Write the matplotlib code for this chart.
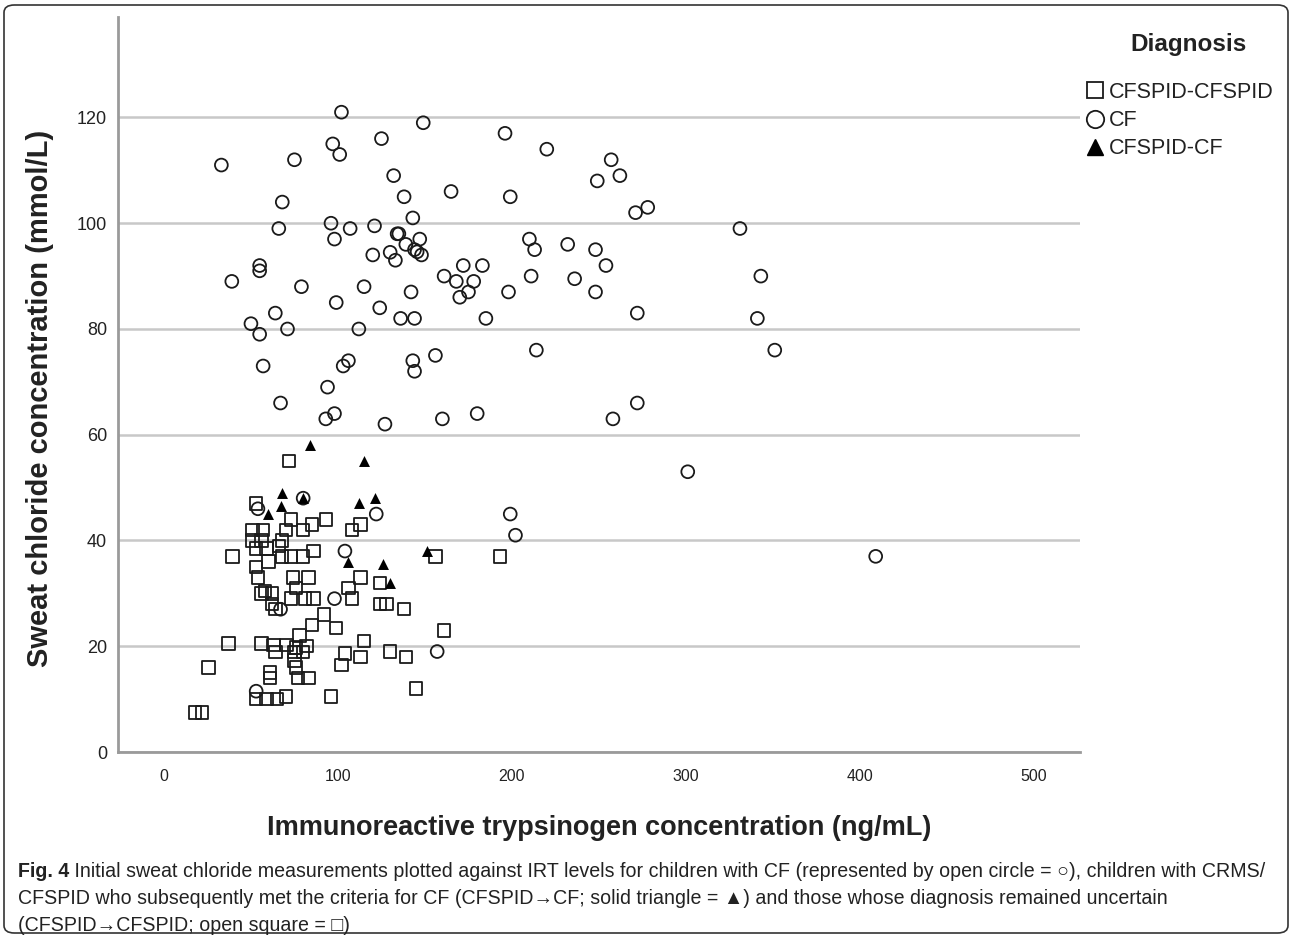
import matplotlib
matplotlib.use("Agg")
import matplotlib.pyplot as plt
from matplotlib.lines import Line2D
from matplotlib.patches import FancyBboxPatch

plt.rcParams['font.family'] = ['Liberation Sans', 'DejaVu Sans']

# CF (open circles)
cf_x = [102, 149, 97, 101, 125, 33, 75, 132, 165, 138, 68, 143, 66, 96, 107, 121, 98, 134, 135,
        147, 139, 144, 145.5, 148, 120, 130, 133, 55, 55, 161, 39, 79, 115, 142, 99, 124, 64, 136,
        144, 50, 55, 71, 112, 156, 143, 144, 106, 103, 57, 94, 67, 98, 93, 127, 160,
        196, 220, 257, 262, 249, 199, 278, 271, 331, 210, 213, 232, 248, 254, 172, 183, 168, 178,
        175, 170, 198, 211, 236, 248, 343, 341, 185, 272, 214, 351, 272, 258, 180,
        301, 409, 199, 202, 122, 104, 98, 157, 80, 54, 67, 53]
cf_y = [121, 119, 115, 113, 116, 111, 112, 109, 106, 105, 104, 101, 99, 100, 99, 99.5, 97, 98, 98,
        97, 96, 95, 94.6, 94, 94, 94.5, 93, 92, 91, 90, 89, 88, 88, 87, 85, 84, 83, 82,
        82, 81, 79, 80, 80, 75, 74, 72, 74, 73, 73, 69, 66, 64, 63, 62, 63,
        117, 114, 112, 109, 108, 105, 103, 102, 99, 97, 95, 96, 95, 92, 92, 92, 89, 89,
        87, 86, 87, 90, 89.5, 87, 90, 82, 82, 83, 76, 76, 66, 63, 64,
        53, 37, 45, 41, 45, 38, 29, 19, 48, 46, 27, 11.5]

# CFSPID -> CF (solid triangles)
tri_x = [84, 115, 68, 67, 60, 80, 112, 121, 151, 106, 126, 130]
tri_y = [58, 55, 49, 46.5, 45, 48, 47, 48, 38, 36, 35.6, 32]

# CFSPID -> CFSPID (open squares)
sq_x = [72, 53, 73, 70, 80, 85, 51, 57, 51, 56, 68, 53, 59, 66, 39.5, 60, 68, 73, 80, 86,
        53, 54, 74, 83, 56, 62, 58, 76, 73, 81, 86, 62, 64, 85, 78, 37, 25.5, 56, 63, 70.5,
        76, 82, 64, 75, 80, 75, 76, 61, 61, 77, 83, 53, 59, 65, 70, 18, 22,
        193, 156, 161, 145, 139, 130, 138, 124, 128, 124, 113, 106, 108, 113, 115, 104, 102,
        96, 108, 113, 93, 92, 99]
sq_y = [55, 47, 44, 42, 42, 43, 42, 42, 40, 40, 40, 38.5, 38.5, 39, 37, 36, 37, 37, 37, 38,
        35, 33, 33, 33, 30, 30, 30.5, 31, 29, 29, 29, 28, 27, 24, 22, 20.5, 16, 20.5, 20.2, 20.2,
        19.8, 20, 18.9, 18.9, 18.9, 17.3, 16, 15, 14, 14, 14, 10, 10, 10, 10.5, 7.5, 7.5,
        37, 37, 23, 12, 18, 19, 27, 28, 28, 32, 33, 31, 29, 18, 21, 18.6, 16.4,
        10.5, 42, 43, 44, 26, 23.5]

y_ticks = [0, 20, 40, 60, 80, 100, 120]
x_ticks = [0, 100, 200, 300, 400, 500]
groups = ['CFSPID-CFSPID', 'CF', 'CFSPID-CF']

fig = plt.figure(figsize=(12.93, 9.38), dpi=100)
ax = fig.add_axes([118 / 1293, 1 - 752 / 938, 962 / 1293, 735 / 938])

edge = '#1a1a1a'
ax.scatter(sq_x, sq_y, marker='s', s=80, facecolors='none', edgecolors=edge, linewidths=1.3, zorder=3)
ax.scatter(cf_x, cf_y, marker='o', s=85, facecolors='none', edgecolors=edge, linewidths=1.3, zorder=4)
ax.scatter(tri_x, tri_y, marker='^', s=62, color='black', linewidths=0, zorder=5)

ax.set_xlim(-26.4, 526.4)
ax.set_ylim(0, 139)
ax.set_yticks(y_ticks)
ax.set_xticks(x_ticks)
ax.yaxis.grid(True, color='#c8c8c8', linewidth=1.8)
ax.set_axisbelow(True)

for side in ['top', 'right']:
    ax.spines[side].set_visible(False)
for side in ['left', 'bottom']:
    ax.spines[side].set_color('#9a9a9a')
    ax.spines[side].set_linewidth(2)

ax.tick_params(axis='y', length=0, pad=8, labelsize=13, labelcolor='#222222')
ax.tick_params(axis='x', length=0, pad=12, labelsize=11.5, labelcolor='#222222')

# axis titles
fig.text(40 / 1293, 1 - 398 / 938, 'Sweat chloride concentration (mmol/L)', rotation=90,
         ha='center', va='center', fontsize=21, fontweight='bold', color='#222222')
fig.text(599 / 1293, 1 - 828 / 938, 'Immunoreactive trypsinogen concentration (ng/mL)',
         ha='center', va='center', fontsize=19.5, fontweight='bold', color='#222222')

# legend
fig.text(1188 / 1293, 1 - 45 / 938, 'Diagnosis', ha='center', va='center',
         fontsize=17.5, fontweight='bold', color='#222222')
handles = [
    Line2D([], [], marker='s', linestyle='none', markersize=12, markerfacecolor='none',
           markeredgecolor=edge, markeredgewidth=1.3),
    Line2D([], [], marker='o', linestyle='none', markersize=12.5, markerfacecolor='none',
           markeredgecolor=edge, markeredgewidth=1.3),
    Line2D([], [], marker='^', linestyle='none', markersize=11.5, color='black'),
]
leg = fig.legend(handles, groups, loc='upper left',
                 bbox_to_anchor=(1084 / 1293, 1 - 82 / 938),
                 frameon=False, fontsize=15.5, handletextpad=0.15, handlelength=1.0,
                 labelspacing=0.33, borderaxespad=0, borderpad=0)
for t in leg.get_texts():
    t.set_color('#222222')

# caption
cap_size = 14.1
caption_lines = [
    'Initial sweat chloride measurements plotted against IRT levels for children with CF '
    '(represented by open circle = \u25CB), children with CRMS/',
    'CFSPID who subsequently met the criteria for CF (CFSPID\u2192CF; solid triangle = \u25B2) '
    'and those whose diagnosis remained uncertain',
    '(CFSPID\u2192CFSPID; open square = \u25A1)',
]
fig_lbl = fig.text(18 / 1293, 1 - 877 / 938, 'Fig. 4', fontsize=cap_size, fontweight='bold',
                   color='#222222', va='baseline')
ax.annotate(' ' + caption_lines[0], xy=(1, 0), xycoords=fig_lbl, va='bottom', ha='left',
            fontsize=cap_size, color='#222222', annotation_clip=False)
fig.text(18 / 1293, 1 - 904 / 938, caption_lines[1], fontsize=cap_size,
         color='#222222', va='baseline')
fig.text(18 / 1293, 1 - 931 / 938, caption_lines[2], fontsize=cap_size,
         color='#222222', va='baseline')

# rounded frame around the figure panel
fig.add_artist(FancyBboxPatch((4 / 1293, 5 / 938), 1284 / 1293, 928 / 938,
                              boxstyle='round,pad=0,rounding_size=0.008',
                              transform=fig.transFigure, fill=False,
                              edgecolor='#333333', linewidth=1.2))

fig.savefig('out.png', dpi=100)
